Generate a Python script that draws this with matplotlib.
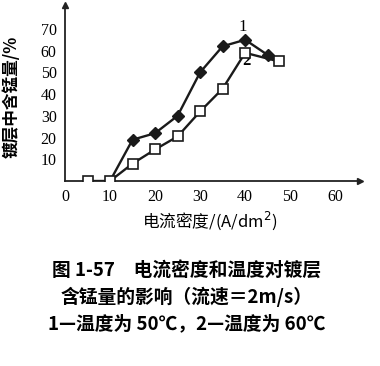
import matplotlib
matplotlib.use("Agg")
import matplotlib.pyplot as plt

plt.rcParams['font.family'] = ['Noto Sans CJK SC', 'DejaVu Sans']

# Data
x1 = [10, 15, 20, 25, 30, 35, 40, 45, 47.5]
y1 = [0, 19, 22, 30, 50, 62, 65, 58, 55]
x2 = [5, 10, 15, 20, 25, 30, 35, 40, 47.5]
y2 = [0, 0, 8, 14.5, 20.5, 32, 42.5, 59, 55]
xticks = [0, 10, 20, 30, 40, 50, 60]
yticks = [10, 20, 30, 40, 50, 60, 70]
ylabel = "镀层中含锰量/%"
xlabel = "电流密度/(A/dm$^2$)"
caption = ["图 1-57　电流密度和温度对镀层",
           "含锰量的影响（流速＝2m/s）",
           "1—温度为 50℃，2—温度为 60℃"]

W, H = 380, 366
fig = plt.figure(figsize=(W/100, H/100), dpi=100)
ax = fig.add_axes([65/W, (H-181)/H, (360-65)/W, (181-5)/H])
ax.set_xlim(0, 65.5)
ax.set_ylim(0, 81)
for s in ['top', 'right']:
    ax.spines[s].set_visible(False)
for s in ['left', 'bottom']:
    ax.spines[s].set_linewidth(1.3)
    ax.spines[s].set_color('#222222')
ax.plot(1, 0, ">", transform=ax.transAxes, clip_on=False, color='#222222', ms=5)
ax.plot(0, 1, "^", transform=ax.transAxes, clip_on=False, color='#222222', ms=5)

ax.plot(x1, y1, color='#1a1a1a', lw=1.7, marker='D', ms=6, mfc='#1a1a1a', mec='#1a1a1a',
        markevery=list(range(1, len(x1)-1)), zorder=3)
ax.plot(x2, y2, color='#1a1a1a', lw=1.7, marker='s', ms=7, mfc='white', mec='#1a1a1a', mew=1.2, zorder=4)

ax.text(39.5, 71, "1", fontsize=12, family='Liberation Serif', ha='center', va='center')
ax.text(40.3, 55, "2", fontsize=12, family='Liberation Serif', ha='center', va='center', weight='bold')

ax.set_xticks(xticks)
ax.set_yticks(yticks)
ax.set_xticklabels([str(t) for t in xticks], family='Liberation Serif', fontsize=11.5)
ax.set_yticklabels([str(t) for t in yticks], family='Liberation Serif', fontsize=11.5)
ax.tick_params(length=0, pad=6)

fig.text(12/W, 1-97/H, ylabel, rotation=90, ha='center', va='center', fontsize=12, weight='bold')
fig.text(210/W, 1-221/H, xlabel, ha='center', va='center', fontsize=12,
         family=['Noto Sans CJK SC', 'DejaVu Sans'])
for i, line in enumerate(caption):
    fig.text(187/W, 1-(270+27*i)/H, line, ha='center', va='center', fontsize=13.5, weight='bold')

fig.savefig("out.png", dpi=100, facecolor='white')
